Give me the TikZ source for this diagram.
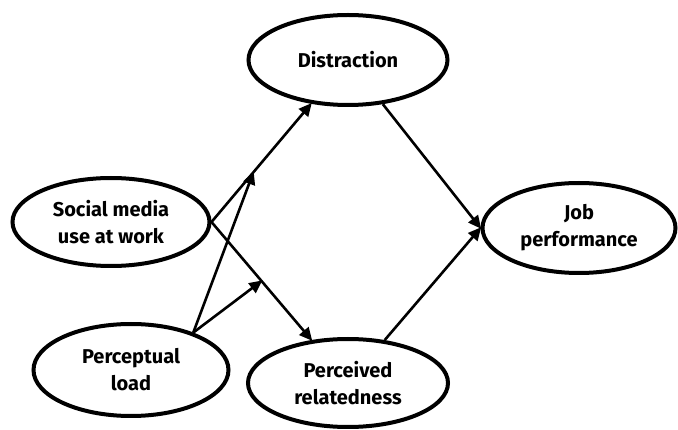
\documentclass[tikz,border=0pt]{standalone}
\usepackage{fontspec}
\setmainfont{Fira Sans}
\usetikzlibrary{shapes.geometric,arrows.meta}
\begin{document}
\begin{tikzpicture}[x=1pt,y=-1pt,
  var/.style={ellipse,draw,line width=4pt,inner sep=0pt,align=center,
    font=\fontsize{20}{27}\selectfont\bfseries},
  link/.style={line width=2.6pt,-{Triangle[length=13pt,width=12pt]},shorten >=-1pt}]
\useasboundingbox (0,0) rectangle (678,430);
\node[var,minimum width=199pt,minimum height=90pt] (dis) at (348,60) {Distraction};
\node[var,minimum width=197pt,minimum height=88pt] (sm) at (111,222) {Social media\\use at work};
\node[var,minimum width=193pt,minimum height=90pt] (job) at (579,228) {Job\\performance};
\node[var,minimum width=195pt,minimum height=92pt] (pl) at (131,370) {Perceptual\\load};
\node[var,minimum width=200pt,minimum height=88pt] (pr) at (348,383) {Perceived\\relatedness};
\draw[link] (sm.east) -- (dis) coordinate[pos=0.42] (m1);
\draw[link] (sm.east) -- (pr) coordinate[pos=0.5] (m2);
\draw[link] (dis) -- (job.west);
\draw[link] (pr) -- (job.west);
\draw[link] (pl.31) -- (m1);
\draw[link] (pl.31) -- (m2);
\end{tikzpicture}
\end{document}
